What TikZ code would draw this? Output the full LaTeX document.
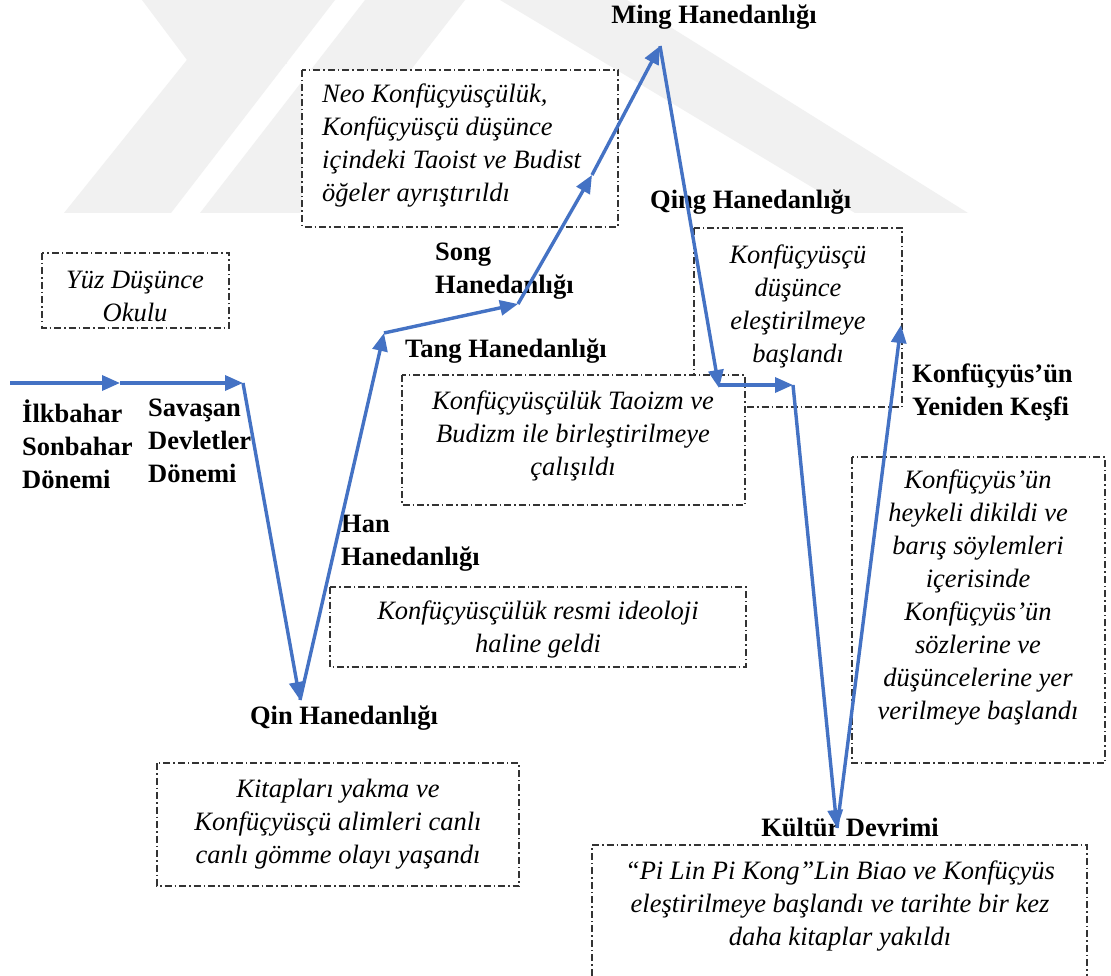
\documentclass[tikz,border=0pt]{standalone}
\usepackage{fontspec}
\setmainfont{Liberation Serif}
\usetikzlibrary{arrows.meta}
\definecolor{lineblue}{HTML}{4472C4}
\definecolor{wmark}{HTML}{F1F1F1}
\begin{document}
\begin{tikzpicture}[x=1pt,y=-1pt,
  flow/.style={draw=lineblue, line width=3.4pt, line join=miter, -{Triangle[length=18pt,width=15pt]}},
  notebox/.style={draw=black!80, line width=1.1pt, dash pattern=on 7pt off 3pt on 1.5pt off 3pt, fill=white},
  lbl/.style={font=\bfseries\fontsize{26.5}{33}\selectfont, inner sep=0pt},
  txt/.style={font=\itshape\fontsize{26.5}{33}\selectfont, inner sep=0pt, align=center},
  wm/.style={fill=wmark, draw=none}
]
\useasboundingbox (0,0) rectangle (1111,976);
\fill[white] (0,0) rectangle (1111,976);

% faint watermark
\fill[wm] (64,213) -- (171,213) -- (335,0) -- (235,0) -- cycle;
\fill[wm] (142,0) -- (235,0) -- (287,64) -- (190,64) -- cycle;
\fill[wm] (200,213) -- (300,213) -- (465,0) -- (365,0) -- cycle;
\fill[wm] (500,0) -- (627,0) -- (968,213) -- (855,213) -- cycle;

% boxes
\draw[notebox] (42,253) rectangle (229,328);
\node[txt] (yuz) at (135,296) {Yüz Düşünce\\Okulu};

\draw[notebox] (302,70) rectangle (618,227);
\node[txt, align=left, anchor=west] (neo) at (322,146) {Neo Konfüçyüsçülük,\\Konfüçyüsçü düşünce\\içindeki Taoist ve Budist\\öğeler ayrıştırıldı};

\draw[notebox] (694,228) rectangle (902,407);
\node[txt] (qingt) at (798,306) {Konfüçyüsçü\\düşünce\\eleştirilmeye\\başlandı};

\draw[notebox] (402,375) rectangle (745,505);
\node[txt] (tangt) at (573,436) {Konfüçyüsçülük Taoizm ve\\Budizm ile birleştirilmeye\\çalışıldı};

\draw[notebox] (330,587) rectangle (746,667);
\node[txt] (hant) at (538,629) {Konfüçyüsçülük resmi ideoloji\\haline geldi};

\draw[notebox] (157,763) rectangle (519,886);
\node[txt] (qint) at (338,824) {Kitapları yakma ve\\Konfüçyüsçü alimleri canlı\\canlı gömme olayı yaşandı};

\draw[notebox] (852,457) rectangle (1105,763);
\node[txt] (kesft) at (978,598) {Konfüçyüs’ün\\heykeli dikildi ve\\barış söylemleri\\içerisinde\\Konfüçyüs’ün\\sözlerine ve\\düşüncelerine yer\\verilmeye başlandı};

\draw[notebox] (592,990) -- (592,845) -- (1087,845) -- (1087,990);
\node[txt] (kultt) at (840,906) {“Pi Lin Pi Kong”Lin Biao ve Konfüçyüs\\eleştirilmeye başlandı ve tarihte bir kez\\daha kitaplar yakıldı};

% bold labels
\node[lbl, align=left, anchor=west] (ilk) at (22,444) {İlkbahar\\Sonbahar\\Dönemi};
\node[lbl, align=left, anchor=west] (sav) at (148,441) {Savaşan\\Devletler\\Dönemi};
\node[lbl, align=left, anchor=west] (han) at (341,543) {Han\\Hanedanlığı};
\node[lbl] (qin) at (344,718) {Qin Hanedanlığı};
\node[lbl, anchor=west] (tang) at (405,351) {Tang Hanedanlığı};
\node[lbl, align=left, anchor=west] (song) at (435,271) {Song\\Hanedanlığı};
\node[lbl] (ming) at (714,17) {Ming Hanedanlığı};
\node[lbl, anchor=west] (qing) at (650,202) {Qing Hanedanlığı};
\node[lbl, align=left, anchor=west] (kesf) at (912,392) {Konfüçyüs’ün\\Yeniden Keşfi};
\node[lbl] (kult) at (850,827) {Kültür Devrimi};

% flow line
\coordinate (p0) at (10,383);
\coordinate (p1) at (120,383);
\coordinate (p2) at (243,383);
\coordinate (p3) at (300,700);
\coordinate (p4) at (384,333);
\coordinate (p5) at (518,304);
\coordinate (p6) at (592,175);
\coordinate (p7) at (660,46);
\coordinate (p8) at (719,388);
\coordinate (p8b) at (719,385);
\coordinate (p9) at (793,385);
\coordinate (p10) at (837,828);
\coordinate (p11) at (901,325);

\draw[flow] (p0) -- (p1);
\draw[flow] (p1) -- (p2);
\draw[flow] (p2) -- (p3);
\draw[flow] (p3) -- (p4);
\draw[flow] (p4) -- (p5);
\draw[flow] (p5) -- (p6);
\draw[flow] (p6) -- (p7);
\draw[flow] (p7) -- (p8);
\draw[flow] (p8b) -- (p9);
\draw[flow] (p9) -- (p10);
\draw[flow] (p10) -- (p11);
\end{tikzpicture}
\end{document}
